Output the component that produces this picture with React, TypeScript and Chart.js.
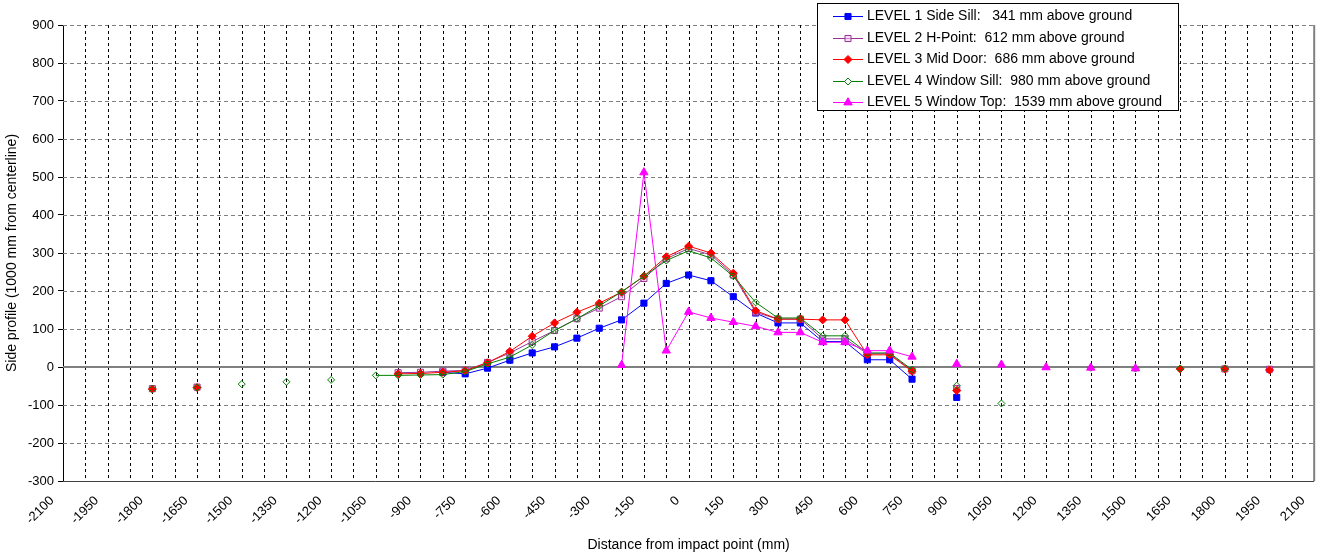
import React, { useEffect, useRef } from 'react';
import { Chart, registerables } from 'chart.js';

Chart.register(...registerables);

// x positions (mm from impact point), one slot every 75 mm; null = no reading
const xPositions = [
  -1800, -1725, -1650, -1575, -1500, -1425, -1350, -1275, -1200, -1125,
  -1050, -975, -900, -825, -750, -675, -600, -525, -450, -375,
  -300, -225, -150, -75, 0, 75, 150, 225, 300, 375,
  450, 525, 600, 675, 750, 825, 900, 975, 1050, 1125,
  1200, 1275, 1350, 1425, 1500, 1575, 1650, 1725, 1800, 1875, 1950,
];

const level1 = [
  null, null, null, null, null, null, null, null, null, null,
  null, null, null, -14, -18, -3, 18, 37, 53, 76,
  102, 124, 168, 220, 242, 227, 185, 142, 116, 116,
  67, 67, 19, 19, -32, null, -80, null, null, null,
  null, null, null, null, null, null, null, null, null, null, null,
];

const level2 = [
  -57, null, -53, null, null, null, null, null, null, null,
  null, -15, -14, -11, -9, 12, 37, 67, 96, 127,
  155, 185, 233, 285, 312, 295, 242, 144, 126, 126,
  74, 74, 35, 35, -10, null, -57, null, null, null,
  null, null, null, null, null, null, null, null, -5, null, -6,
];

const level3 = [
  -58, null, -54, null, null, null, null, null, null, null,
  null, -18, -17, -14, -10, 11, 41, 81, 116, 144,
  168, 197, 239, 290, 318, 300, 247, 148, 126, 126,
  124, 124, 32, 32, -11, null, -62, null, null, null,
  null, null, null, null, null, null, -5, null, -5, null, -8,
];

const level4 = [
  -58, null, -54, null, -45, null, -39, null, -34, null,
  -22, -22, -21, -20, -12, 8, 26, 58, 96, 127,
  161, 198, 239, 280, 306, 287, 239, 170, 129, 129,
  82, 82, 37, 37, -7, null, -49, null, -96, null,
  null, null, -2, null, -4, null, -4, null, -4, null, null,
];

const level5 = [
  null, null, null, null, null, null, null, null, null, null,
  null, null, null, null, null, null, null, null, null, null,
  null, 5, 512, 43, 145, 129, 118, 107, 91, 91,
  65, 65, 43, 43, 27, null, 8, null, 6, null,
  -1, null, -2, null, -4, null, null, null, null, null, null,
];

const seriesLabels = [
  'LEVEL 1 Side Sill:   341 mm above ground',
  'LEVEL 2 H-Point:  612 mm above ground',
  'LEVEL 3 Mid Door:  686 mm above ground',
  'LEVEL 4 Window Sill:  980 mm above ground',
  'LEVEL 5 Window Top:  1539 mm above ground',
];

const xTitle = 'Distance from impact point (mm)';
const yTitle = 'Side profile (1000 mm from centerline)';

const FONT = "'Liberation Sans', Arial, sans-serif";

const styles = [
  { color: '#0000FF', fill: '#0000FF', shape: 'rect', radius: 4.3 },
  { color: '#993399', fill: 'rgba(235,200,235,0.6)', shape: 'rect', radius: 4.3 },
  { color: '#FF0000', fill: '#FF0000', shape: 'rectRot', radius: 4 },
  { color: '#008000', fill: 'rgba(0,0,0,0)', shape: 'rectRot', radius: 3.5 },
  { color: '#FF00FF', fill: '#FF00FF', shape: 'triangle', radius: 4.8 },
];

function drawMarker(ctx: CanvasRenderingContext2D, shape: string, x: number, y: number, r: number, stroke: string, fill: string) {
  ctx.beginPath();
  if (shape === 'rect') {
    const s = r * Math.SQRT1_2;
    ctx.rect(x - s, y - s, 2 * s, 2 * s);
  } else if (shape === 'rectRot') {
    ctx.moveTo(x, y - r);
    ctx.lineTo(x + r, y);
    ctx.lineTo(x, y + r);
    ctx.lineTo(x - r, y);
    ctx.closePath();
  } else {
    ctx.moveTo(x, y - r);
    ctx.lineTo(x + r * 0.866, y + r * 0.5);
    ctx.lineTo(x - r * 0.866, y + r * 0.5);
    ctx.closePath();
  }
  ctx.fillStyle = fill;
  ctx.fill();
  ctx.strokeStyle = stroke;
  ctx.lineWidth = 1;
  ctx.stroke();
}

const gridPlugin = {
  id: 'excelGrid',
  beforeDatasetsDraw(chart: any) {
    const { ctx, chartArea: a, scales } = chart;
    const xs = scales.x;
    const ys = scales.y;
    ctx.save();
    // horizontal dashed gridlines
    ctx.lineWidth = 1;
    ctx.strokeStyle = '#7f7f7f';
    ctx.setLineDash([4, 3]);
    ys.ticks.forEach((t: any) => {
      if (t.value === 0) return;
      const py = Math.round(ys.getPixelForValue(t.value)) + 0.5;
      ctx.beginPath();
      ctx.moveTo(a.left, py);
      ctx.lineTo(a.right, py);
      ctx.stroke();
    });
    // vertical dashed gridlines
    ctx.strokeStyle = '#000000';
    ctx.setLineDash([3, 3]);
    xs.ticks.forEach((t: any) => {
      if (t.value <= xs.min || t.value >= xs.max) return;
      const px = Math.round(xs.getPixelForValue(t.value)) + 0.5;
      ctx.beginPath();
      ctx.moveTo(px, a.top);
      ctx.lineTo(px, a.bottom);
      ctx.stroke();
    });
    ctx.setLineDash([]);
    // zero line
    ctx.strokeStyle = '#808080';
    ctx.lineWidth = 2;
    const y0 = Math.round(ys.getPixelForValue(0));
    ctx.beginPath();
    ctx.moveTo(a.left, y0);
    ctx.lineTo(a.right, y0);
    ctx.stroke();
    // right border
    ctx.lineWidth = 2;
    ctx.strokeStyle = '#808080';
    ctx.beginPath();
    ctx.moveTo(a.right, a.top);
    ctx.lineTo(a.right, a.bottom);
    ctx.stroke();
    // bottom border
    ctx.lineWidth = 1;
    ctx.strokeStyle = '#404040';
    const yb = Math.round(a.bottom) + 0.5;
    ctx.beginPath();
    ctx.moveTo(a.left, yb);
    ctx.lineTo(a.right, yb);
    ctx.stroke();
    ctx.restore();
  },
};

const legendPlugin = {
  id: 'boxLegend',
  afterDraw(chart: any) {
    const { ctx } = chart;
    const bx = 817.5, by = 3.5, bw = 361, bh = 107;
    ctx.save();
    ctx.fillStyle = '#ffffff';
    ctx.fillRect(bx, by, bw, bh);
    ctx.strokeStyle = '#000000';
    ctx.lineWidth = 1;
    ctx.strokeRect(bx, by, bw, bh);
    const rows = [16, 37.5, 59, 80.5, 101.5];
    ctx.font = `14px ${FONT}`;
    ctx.textBaseline = 'middle';
    ctx.textAlign = 'left';
    seriesLabels.forEach((label, i) => {
      const st = styles[i];
      const ry = rows[i];
      ctx.strokeStyle = st.color;
      ctx.lineWidth = 1;
      ctx.beginPath();
      ctx.moveTo(833, Math.round(ry) + 0.5);
      ctx.lineTo(863, Math.round(ry) + 0.5);
      ctx.stroke();
      drawMarker(ctx, st.shape, 848, Math.round(ry) + 0.5, st.radius, st.color, st.fill === 'rgba(0,0,0,0)' ? '#ffffff' : st.fill);
      ctx.fillStyle = '#000000';
      ctx.fillText(label, 867, ry + 0.5);
    });
    ctx.restore();
  },
};

export default function App() {
  const canvasRef = useRef<HTMLCanvasElement | null>(null);

  useEffect(() => {
    document.body.style.margin = '0';
    const canvas = canvasRef.current;
    if (!canvas) return;
    const allSeries = [level1, level2, level3, level4, level5];
    const datasets = allSeries.map((vals, i) => ({
      label: seriesLabels[i],
      data: xPositions.map((x, j) => ({ x, y: vals[j] })),
      borderColor: styles[i].color,
      backgroundColor: styles[i].fill,
      borderWidth: 1,
      pointStyle: styles[i].shape,
      pointRadius: styles[i].radius,
      pointBorderWidth: 1,
      pointBorderColor: styles[i].color,
      pointBackgroundColor: styles[i].fill,
      spanGaps: false,
      tension: 0,
      fill: false,
      order: 5 - i,
    }));

    const chart = new Chart(canvas, {
      type: 'line',
      data: { datasets },
      plugins: [gridPlugin, legendPlugin],
      options: {
        animation: false,
        responsive: false,
        devicePixelRatio: 1,
        layout: { padding: { top: 25, right: 4, left: 0, bottom: 0 } },
        plugins: {
          legend: { display: false },
          tooltip: { enabled: false },
        },
        scales: {
          x: {
            type: 'linear',
            min: -2100,
            max: 2100,
            grid: { display: false },
            border: { display: false },
            ticks: {
              stepSize: 75,
              autoSkip: false,
              minRotation: 45,
              maxRotation: 45,
              padding: 4,
              labelOffset: -11,
              color: '#000000',
              font: { family: FONT, size: 13 },
              callback: (v: any) => (Number(v) % 150 === 0 ? String(v) : ''),
            },
            title: {
              display: true,
              text: xTitle,
              color: '#000000',
              font: { family: FONT, size: 14 },
              padding: { top: 0, bottom: 5 },
            },
            afterFit: (s: any) => {
              s.height = 78;
              s.paddingLeft = 0;
              s.paddingRight = 0;
            },
          },
          y: {
            type: 'linear',
            min: -300,
            max: 900,
            grid: {
              drawOnChartArea: false,
              drawTicks: true,
              tickLength: 5,
              color: '#000000',
            },
            border: { display: true, color: '#000000', width: 1 },
            ticks: {
              stepSize: 100,
              padding: 4,
              color: '#000000',
              font: { family: FONT, size: 13 },
            },
            title: {
              display: true,
              text: yTitle,
              color: '#000000',
              font: { family: FONT, size: 14 },
              padding: { top: 4, bottom: 0 },
            },
            afterFit: (s: any) => {
              s.width = 63;
              s.paddingTop = 0;
              s.paddingBottom = 0;
            },
          },
        },
      },
    });
    return () => chart.destroy();
  }, []);

  return (
    <div style={{ width: 1320, height: 559, position: 'relative', background: '#ffffff' }}>
      <canvas ref={canvasRef} width={1320} height={559} style={{ display: 'block' }} />
    </div>
  );
}
